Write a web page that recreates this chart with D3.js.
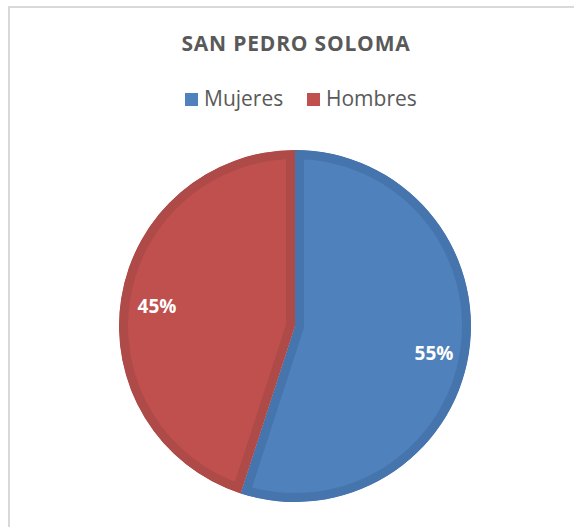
<!DOCTYPE html>
<html>
<head>
<meta charset="utf-8">
<script src="https://cdn.jsdelivr.net/npm/d3@7"></script>
<style>
  body { margin: 0; background: #fff; }
  svg { display: block; }
</style>
</head>
<body>
<script>
const categories = ['Mujeres', 'Hombres'];
const values = [55, 45];
const labels = ['55%', '45%'];
const colors = ['#4F81BD', '#C0504D'];
const strokeColors = ['#4674AC', '#AE4A48'];

const width = 574;
const height = 527;
const font = "'Open Sans', 'Noto Sans', sans-serif";

const svg = d3.select('body')
  .append('svg')
  .attr('width', width)
  .attr('height', height);

// chart frame (only top and left edges visible)
svg.append('path')
  .attr('d', `M9,${height} L9,7 L${width},7`)
  .attr('fill', 'none')
  .attr('stroke', '#d9d9d9')
  .attr('stroke-width', 2);

svg.append('text')
  .attr('x', 296)
  .attr('y', 51)
  .attr('text-anchor', 'middle')
  .style('font-family', font)
  .style('font-size', '21px')
  .style('font-weight', 'bold')
  .style('letter-spacing', '0.8px')
  .style('fill', '#595959')
  .text('SAN PEDRO SOLOMA');

// legend
const legendX = [185, 307];
const legend = svg.selectAll('.legend').data(categories)
  .enter()
  .append('g')
  .attr('class', 'legend')
  .attr('transform', (d, i) => `translate(${legendX[i]}, 93)`);

legend.append('rect')
  .attr('width', 13)
  .attr('height', 13)
  .attr('fill', (d, i) => colors[i]);

legend.append('text')
  .attr('x', 19)
  .attr('y', 13)
  .style('font-family', font)
  .style('font-size', '21px')
  .style('fill', '#595959')
  .text(d => d);

// pie
const cx = 295, cy = 326, radius = 176;

const pie = d3.pie().sort(null).value(d => d);
const arc = d3.arc().innerRadius(0).outerRadius(radius);
const arcs = pie(values);

const g = svg.append('g').attr('transform', `translate(${cx}, ${cy})`);

g.selectAll('clipPath').data(arcs)
  .enter()
  .append('clipPath')
  .attr('id', (d, i) => `clip${i}`)
  .append('path')
  .attr('d', arc);

g.selectAll('.slice').data(arcs)
  .enter()
  .append('path')
  .attr('class', 'slice')
  .attr('d', arc)
  .attr('fill', (d, i) => colors[i])
  .attr('stroke', (d, i) => strokeColors[i])
  .attr('stroke-width', 18)
  .attr('stroke-linejoin', 'miter')
  .attr('clip-path', (d, i) => `url(#clip${i})`);

const labelPos = [[139, 34], [-138, -13]];
g.selectAll('.label').data(arcs)
  .enter()
  .append('text')
  .attr('class', 'label')
  .attr('x', (d, i) => labelPos[i][0])
  .attr('y', (d, i) => labelPos[i][1])
  .attr('text-anchor', 'middle')
  .style('font-family', font)
  .style('font-size', '19px')
  .style('font-weight', 'bold')
  .style('fill', '#fff')
  .text((d, i) => labels[i]);
</script>
</body>
</html>
